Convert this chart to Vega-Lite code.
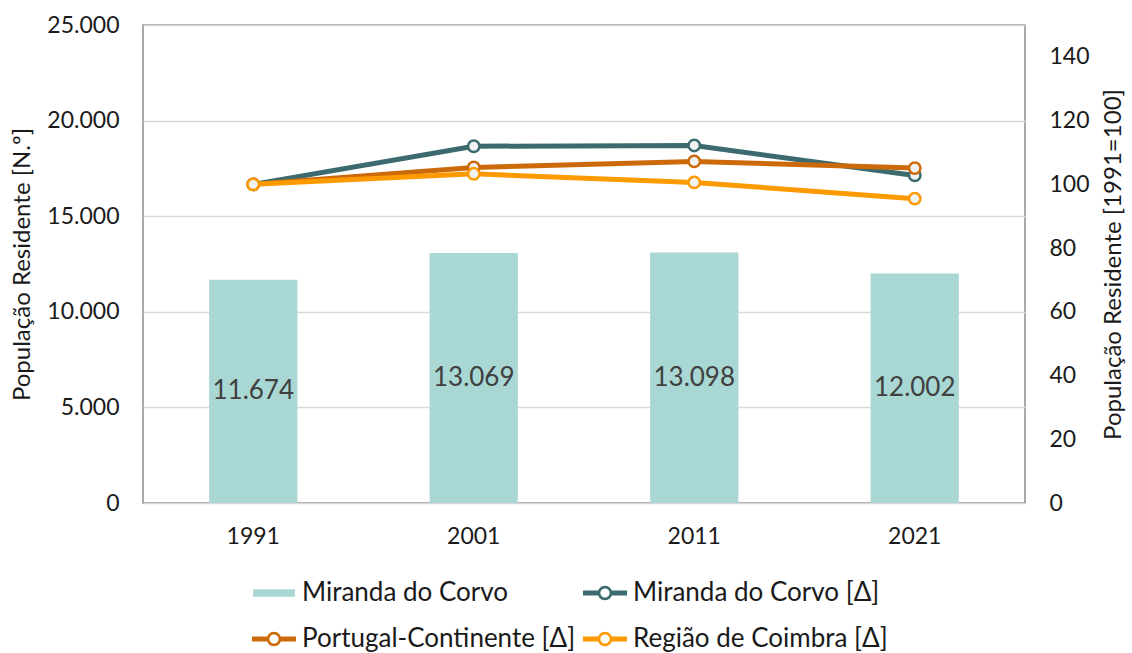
{
  "$schema": "https://vega.github.io/schema/vega-lite/v6.json",
  "width": 882,
  "height": 478,
  "autosize": {"type": "none"},
  "padding": {"left": 143, "top": 25, "right": 107, "bottom": 150},
  "background": "white",
  "datasets": {
    "bars": [
      {"year": "1991", "series": "Miranda do Corvo", "pop": 11674},
      {"year": "2001", "series": "Miranda do Corvo", "pop": 13069},
      {"year": "2011", "series": "Miranda do Corvo", "pop": 13098},
      {"year": "2021", "series": "Miranda do Corvo", "pop": 12002}
    ],
    "idx": [
      {"year": "1991", "series": "Miranda do Corvo [Δ]", "index": 100},
      {"year": "2001", "series": "Miranda do Corvo [Δ]", "index": 111.95},
      {"year": "2011", "series": "Miranda do Corvo [Δ]", "index": 112.2},
      {"year": "2021", "series": "Miranda do Corvo [Δ]", "index": 102.8},
      {"year": "1991", "series": "Portugal-Continente [Δ]", "index": 100},
      {"year": "2001", "series": "Portugal-Continente [Δ]", "index": 105.3},
      {"year": "2011", "series": "Portugal-Continente [Δ]", "index": 107.2},
      {"year": "2021", "series": "Portugal-Continente [Δ]", "index": 105.1},
      {"year": "1991", "series": "Região de Coimbra [Δ]", "index": 100},
      {"year": "2001", "series": "Região de Coimbra [Δ]", "index": 103.3},
      {"year": "2011", "series": "Região de Coimbra [Δ]", "index": 100.6},
      {"year": "2021", "series": "Região de Coimbra [Δ]", "index": 95.5}
    ]
  },
  "config": {
    "font": "Lato",
    "locale": {"number": {"decimal": ",", "thousands": ".", "grouping": [3], "currency": ["€", ""]}},
    "view": {"stroke": "#8c8c8c", "strokeWidth": 1.5},
    "axis": {
      "labelFont": "Lato", "labelFontSize": 23, "labelColor": "#1a1a1a",
      "titleFont": "Lato", "titleFontSize": 24, "titleFontWeight": "normal", "titleColor": "#1a1a1a",
      "ticks": false, "domain": false
    },
    "legend": {"labelFont": "Lato", "labelFontSize": 26, "labelColor": "#1a1a1a"}
  },
  "encoding": {
    "x": {
      "field": "year", "type": "ordinal",
      "scale": {"paddingInner": 0.6, "paddingOuter": 0.3},
      "axis": {"title": null, "labelAngle": 0, "labelPadding": 22, "grid": false}
    }
  },
  "layer": [
    {
      "data": {"name": "bars"},
      "mark": {"type": "bar", "color": "#a9d8d4"},
      "encoding": {
        "y": {
          "field": "pop", "type": "quantitative",
          "scale": {"domain": [0, 25000], "nice": false},
          "axis": {
            "title": "População Residente [N.º]",
            "values": [0, 5000, 10000, 15000, 20000, 25000],
            "format": ",d", "labelPadding": 24, "titlePadding": 12,
            "grid": true, "gridColor": "#d9d9d9", "gridWidth": 1.5
          }
        },
        "color": {
          "field": "series", "type": "nominal",
          "scale": {
            "domain": ["Miranda do Corvo", "Miranda do Corvo [Δ]", "Portugal-Continente [Δ]", "Região de Coimbra [Δ]"],
            "range": ["#a9d8d4", "#3b6b6e", "#cc6a0a", "#fd9a00"]
          },
          "legend": {
            "title": null,
            "orient": "none",
            "legendX": 109,
            "legendY": 546,
            "direction": "horizontal",
            "columns": 2,
            "columnPadding": 8,
            "rowPadding": 11,
            "symbolSize": 1936,
            "labelOffset": 6,
            "labelLimit": 400,
            "encode": {
              "symbols": {
                "update": {
                  "shape": {"signal": "datum.value === 'Miranda do Corvo' ? 'M-0.95,-0.17L0.95,-0.17L0.95,0.17L-0.95,0.17Z' : 'M-1,-0.11L-0.28,-0.11L-0.28,0.11L-1,0.11Z M0.28,-0.11L1,-0.11L1,0.11L0.28,0.11Z M0.33,0A0.33,0.33 0 1,1 -0.33,0A0.33,0.33 0 1,1 0.33,0Z M0.21,0A0.21,0.21 0 1,0 -0.21,0A0.21,0.21 0 1,0 0.21,0Z'"},
                  "fill": {"signal": "scale('color', datum.value)"},
                  "fillOpacity": {"value": 1},
                  "opacity": {"value": 1},
                  "stroke": {"value": "transparent"},
                  "strokeWidth": {"value": 0}
                }
              }
            }
          }
        }
      }
    },
    {
      "data": {"name": "idx"},
      "layer": [
        {
          "mark": {"type": "line", "strokeWidth": 5},
          "encoding": {
            "y": {
              "field": "index", "type": "quantitative",
              "scale": {"domain": [0, 150], "nice": false},
              "axis": {
                "orient": "right",
                "title": "População Residente [1991=100]",
                "titleAngle": 270,
                "titleBaseline": "top",
                "values": [0, 20, 40, 60, 80, 100, 120, 140],
                "labelPadding": 24, "titlePadding": 12, "grid": false
              }
            },
            "color": {"field": "series", "type": "nominal"}
          }
        },
        {
          "mark": {"type": "point", "shape": "circle", "filled": false, "fill": "#f2f2f2", "fillOpacity": 1, "opacity": 1, "size": 130, "strokeWidth": 2.5},
          "encoding": {
            "y": {"field": "index", "type": "quantitative"},
            "stroke": {
              "field": "series", "type": "nominal",
              "scale": {
                "domain": ["Miranda do Corvo", "Miranda do Corvo [Δ]", "Portugal-Continente [Δ]", "Região de Coimbra [Δ]"],
                "range": ["#a9d8d4", "#3b6b6e", "#cc6a0a", "#fd9a00"]
              },
              "legend": null
            }
          }
        }
      ]
    },
    {
      "data": {"name": "bars"},
      "mark": {"type": "text", "fontSize": 26, "color": "#404040", "baseline": "middle", "align": "center", "font": "Lato"},
      "encoding": {
        "y": {"field": "pop", "type": "quantitative", "scale": {"domain": [0, 50000], "nice": false}, "axis": null},
        "text": {"field": "pop", "type": "quantitative", "format": ",d"}
      }
    }
  ],
  "resolve": {"scale": {"y": "independent"}}
}
